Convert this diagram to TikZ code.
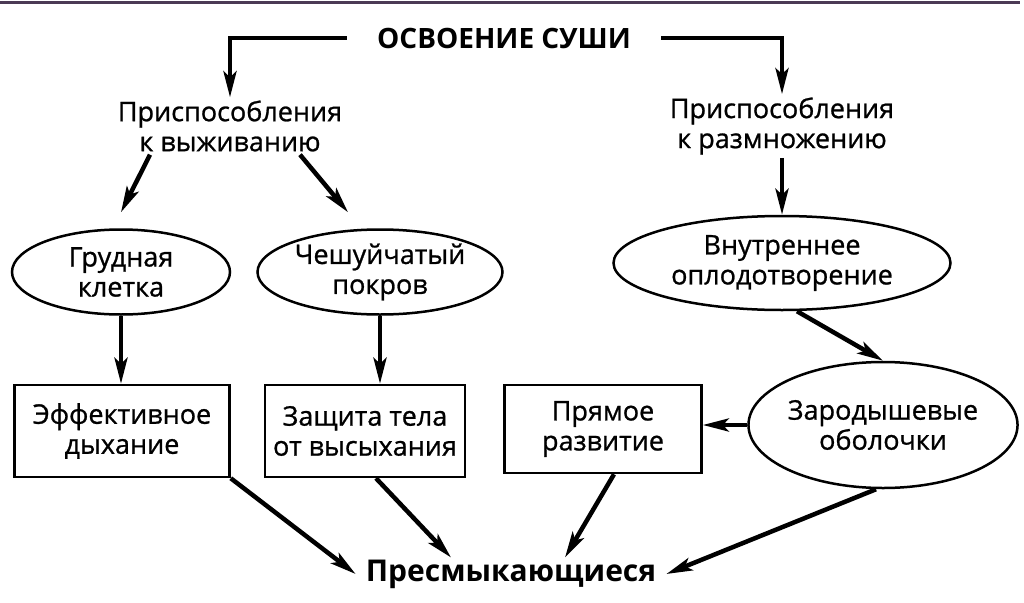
\documentclass[tikz,border=0pt]{standalone}
\usepackage{fontspec}
\setmainfont{Open Sans}
\newfontfamily\medium{Open Sans}[BoldFont=Open Sans,BoldFeatures={FakeBold=0.9}]
\usepackage{xcolor}
\usetikzlibrary{shapes.geometric,arrows.meta}
\definecolor{rule}{HTML}{4B3A55}
\tikzset{ell/.style={ellipse,draw,line width=2.5pt,inner sep=0pt,align=center,font=\medium\bfseries\fontsize{27}{30}\selectfont},
  box/.style={rectangle,draw,line width=2.5pt,inner sep=0pt,align=center,font=\medium\bfseries\fontsize{27}{30}\selectfont},
  lbl/.style={align=center,inner sep=3pt,font=\medium\bfseries\fontsize{27}{30}\selectfont},
  head/.style={font=\bfseries\fontsize{28}{30}\selectfont,inner ysep=2pt},
  arr/.style={->,line width=4.5pt}}

\begin{document}
\begin{tikzpicture}[x=1pt,y=-1pt,>={Stealth[length=26pt,width=13pt,inset=6pt]}]
    \useasboundingbox (0,0) rectangle (1024,602);
    \draw[line width=2.5pt,rule] (0,2.5) -- (1020,2.5);

    \node[head,inner xsep=30pt] (top) at (504,38) {ОСВОЕНИЕ СУШИ};
    \node[lbl] (surv) at (230,126) {Приспособления\\к выживанию};
    \node[lbl] (repr) at (782,126) {Приспособления\\к размножению};
    \node[ell,minimum width=218pt,minimum height=85pt] (chest) at (121,272) {Грудная\\клетка};
    \node[ell,minimum width=245pt,minimum height=85pt] (scale) at (380,272) {Чешуйчатый\\покров};
    \node[ell,minimum width=337pt,minimum height=94pt] (fert) at (782,263) {Внутреннее\\оплодотворение};
    \node[ell,minimum width=250pt,minimum height=126pt] (memb) at (883,425) {Зародышевые\\оболочки};
    \node[box,minimum width=215pt,minimum height=92pt] (breath) at (122,431) {Эффективное\\дыхание};
    \node[box,minimum width=200pt,minimum height=92pt] (prot) at (365,431) {Защита тела\\от высыхания};
    \node[box,minimum width=197pt,minimum height=88pt] (direct) at (603,429) {Прямое\\развитие};
    \node[head,font=\bfseries\fontsize{30}{30}\selectfont,inner xsep=10pt] (rept) at (511,574) {Пресмыкающиеся};

    \draw[arr] (top.west) -| (surv.north);
    \draw[arr] (top.east) -| (repr.north);
    \draw[arr] ([xshift=-80pt]surv.south) -- ([yshift=16pt]chest.north);
    \draw[arr] ([xshift=70pt]surv.south) -- ([xshift=-32pt,yshift=16pt]scale.north);
    \draw[arr] (repr.south) -- (fert.north);
    \draw[arr] (chest.south) -- (chest.south |- breath.north);
    \draw[arr] (scale.south) -- (scale.south |- prot.north);
    \draw[arr] ([xshift=15pt]fert.south) -- (memb.north);
    \draw[arr] (memb.west) -- (memb.west -| direct.east);
    \draw[arr] (breath.south east) -- (rept.west);
    \draw[arr] ([xshift=11pt]prot.south) -- ([xshift=-60pt]rept.north);
    \draw[arr] ([xshift=11pt]direct.south) -- ([xshift=54pt]rept.north);
    \draw[arr] ([xshift=-7pt]memb.south) -- (rept.east);
\end{tikzpicture}
\end{document}
